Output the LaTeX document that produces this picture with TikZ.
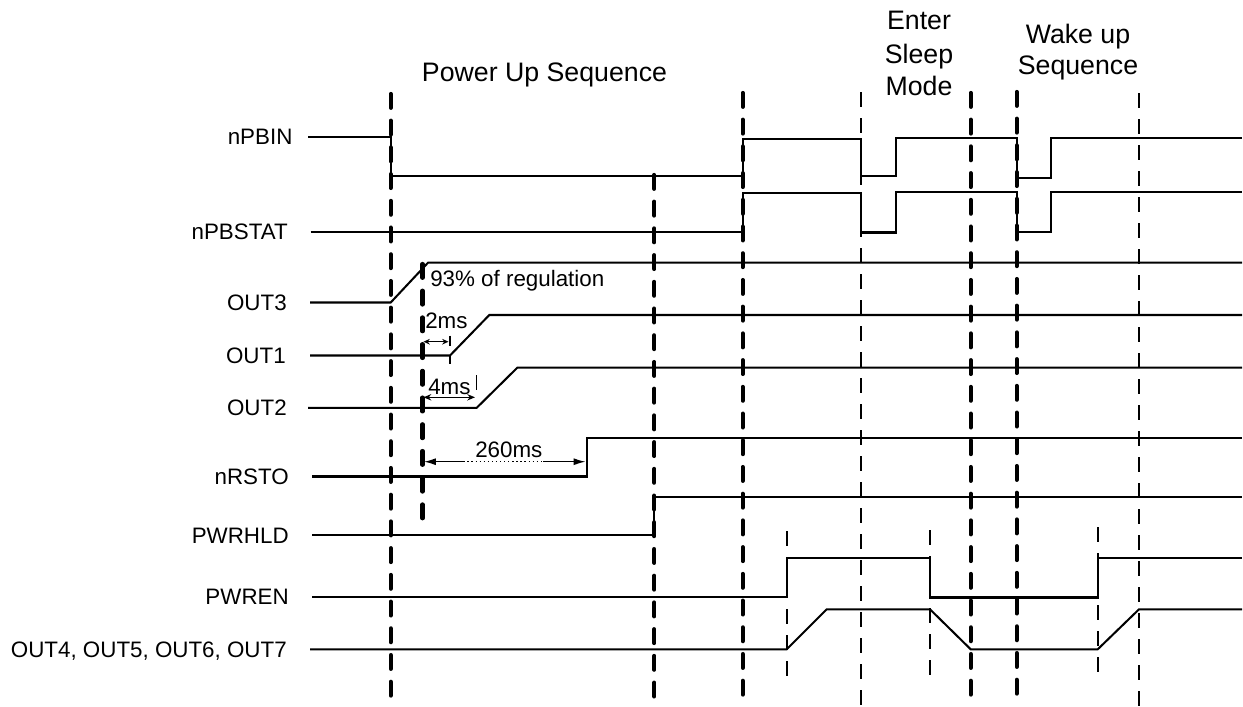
\documentclass[tikz,border=0pt]{standalone}
\usepackage{fontspec}
\setmainfont{Liberation Sans}
\usetikzlibrary{arrows.meta}
\begin{document}
\begin{tikzpicture}[x=0.025cm,y=-0.025cm,
  sig/.style={line width=1.45pt, line join=miter},
  thickdash/.style={line width=3pt, line cap=round, dash pattern=on 9.8pt off 9.2pt},
  thindash/.style={line width=1.2pt, dash pattern=on 10.7pt off 7.8pt},
  lbl/.style={font=\fontsize{15.9}{19}\selectfont, inner sep=0pt},
  ttl/.style={font=\fontsize{19}{23}\selectfont, inner sep=0pt},
  dim/.style={line width=0.9pt}]
\useasboundingbox (0,0) rectangle (1243,706);

% vertical markers
\draw[thickdash] (390.7,94) -- (390.7,703);
\draw[thickdash] (422.5,264) -- (422.5,520);
\draw[thickdash] (654.3,175) -- (654.3,706);
\draw[thickdash] (742.7,93) -- (742.7,706);
\draw[thickdash] (970.7,93) -- (970.7,706);
\draw[thickdash] (1016.7,92) -- (1016.7,706);
\draw[thindash] (861,92) -- (861,706);
\draw[thindash] (1139,93) -- (1139,706);
\draw[thindash] (786.7,531) -- (786.7,678);
\draw[thindash] (930,530) -- (930,675);
\draw[thindash] (1097.7,527) -- (1097.7,673);

% titles
\node[ttl, anchor=base] (tpu) at (544.5,81) {Power Up Sequence};
\node[ttl, anchor=base] (tes1) at (919,29.4) {Enter};
\node[ttl, anchor=base] (tes2) at (919,63) {Sleep};
\node[ttl, anchor=base] (tes3) at (919,95.2) {Mode};
\node[ttl, anchor=base] (twu1) at (1078,43.3) {Wake up};
\node[ttl, anchor=base] (twu2) at (1078,74.4) {Sequence};

% signal labels
\node[lbl, anchor=base east] (lnpbin) at (292.7,144.5) {nPBIN};
\node[lbl, anchor=base east] (lnpbstat) at (288,239.5) {nPBSTAT};
\node[lbl, anchor=base east] (lout3) at (287,310.3) {OUT3};
\node[lbl, anchor=base east] (lout1) at (286,363.3) {OUT1};
\node[lbl, anchor=base east] (lout2) at (287,415.6) {OUT2};
\node[lbl, anchor=base east] (lnrsto) at (289,484.3) {nRSTO};
\node[lbl, anchor=base east] (lpwrhld) at (289,543.1) {PWRHLD};
\node[lbl, anchor=base east] (lpwren) at (289,604.5) {PWREN};
\node[lbl, anchor=base east] (lout4) at (287,657.1) {OUT4, OUT5, OUT6, OUT7};

% signals
\draw[sig] (308,137) -- (390.7,137) -- (390.7,176.3) -- (742.7,176.3) -- (742.7,139.3)
  -- (861,139.3) -- (861,176.3) -- (895.7,176.3) -- (895.7,137.7) -- (1016.7,137.7)
  -- (1016.7,177.7) -- (1051,177.7) -- (1051,138.3) -- (1242,138.3);
\draw[sig] (310.7,231.7) -- (742.7,231.7) -- (742.7,193.3) -- (861,193.3) -- (861,232.5)
  -- (895.7,232.5) -- (895.7,191.7) -- (1016.7,191.7) -- (1016.7,231.7) -- (1051,231.7)
  -- (1051,191.7) -- (1242,191.7);
\draw[sig] (310,302.5) -- (390.7,302.5) -- (428,262.7) -- (1242,262.7);
\draw[sig] (310,355.5) -- (450,355.5) -- (489.3,315) -- (1242,315);
\draw[sig] (308,407.8) -- (476.7,407.8) -- (517.3,367.7) -- (1242,367.7);
\draw[sig] (312,476.5) -- (586.7,476.5) -- (586.7,438) -- (1242,438);
\draw[sig] (312,535.3) -- (654.3,535.3) -- (654.3,497.3) -- (1242,497.3);
\draw[sig] (312,596.7) -- (786.7,596.7) -- (786.7,558.3) -- (930,558.3) -- (930,597.5)
  -- (1097.7,597.5) -- (1097.7,558.3) -- (1242,558.3);
\draw[sig] (310,649.3) -- (786.7,649.3) -- (826.7,609.3) -- (930,609.3) -- (970.7,649.3)
  -- (1097.7,649.3) -- (1139,609.3) -- (1242,609.3);

% annotations
\node[lbl, anchor=base west] (a93) at (430,286.7) {93\% of regulation};
\node[lbl, anchor=base west] (a2) at (425,328.3) {2ms};
\node[lbl, anchor=base west] (a4) at (428,394) {4ms};
\node[lbl, anchor=base west] (a260) at (475,457.3) {260ms};

\coordinate (d2a) at (423.5,341.7);
\coordinate (d2b) at (448.5,341.7);
\draw[dim, {Stealth[length=4.5pt,width=4pt]}-{Stealth[length=4.5pt,width=4pt]}] (d2a) -- (d2b);
\draw[dim] (450,335.5) -- (450,346);
\draw[dim] (450,356) -- (450,364);

\coordinate (d4a) at (423.5,397.3);
\coordinate (d4b) at (475,397.3);
\draw[dim, {Stealth[length=5.5pt,width=4.5pt]}-{Stealth[length=5.5pt,width=4.5pt]}] (d4a) -- (d4b);
\draw[dim] (476.7,375) -- (476.7,390);

\coordinate (d260a) at (424,461.7);
\coordinate (d260m1) at (463.3,461.7);
\coordinate (d260m2) at (543.3,461.7);
\coordinate (d260b) at (585.5,461.7);
\draw[dim, {Latex[length=8.5pt,width=5pt]}-] (d260a) -- (d260m1);
\draw[dim, dotted] (d260m1) -- (d260m2);
\draw[dim, -{Latex[length=8.5pt,width=5pt]}] (d260m2) -- (d260b);
\end{tikzpicture}
\end{document}
